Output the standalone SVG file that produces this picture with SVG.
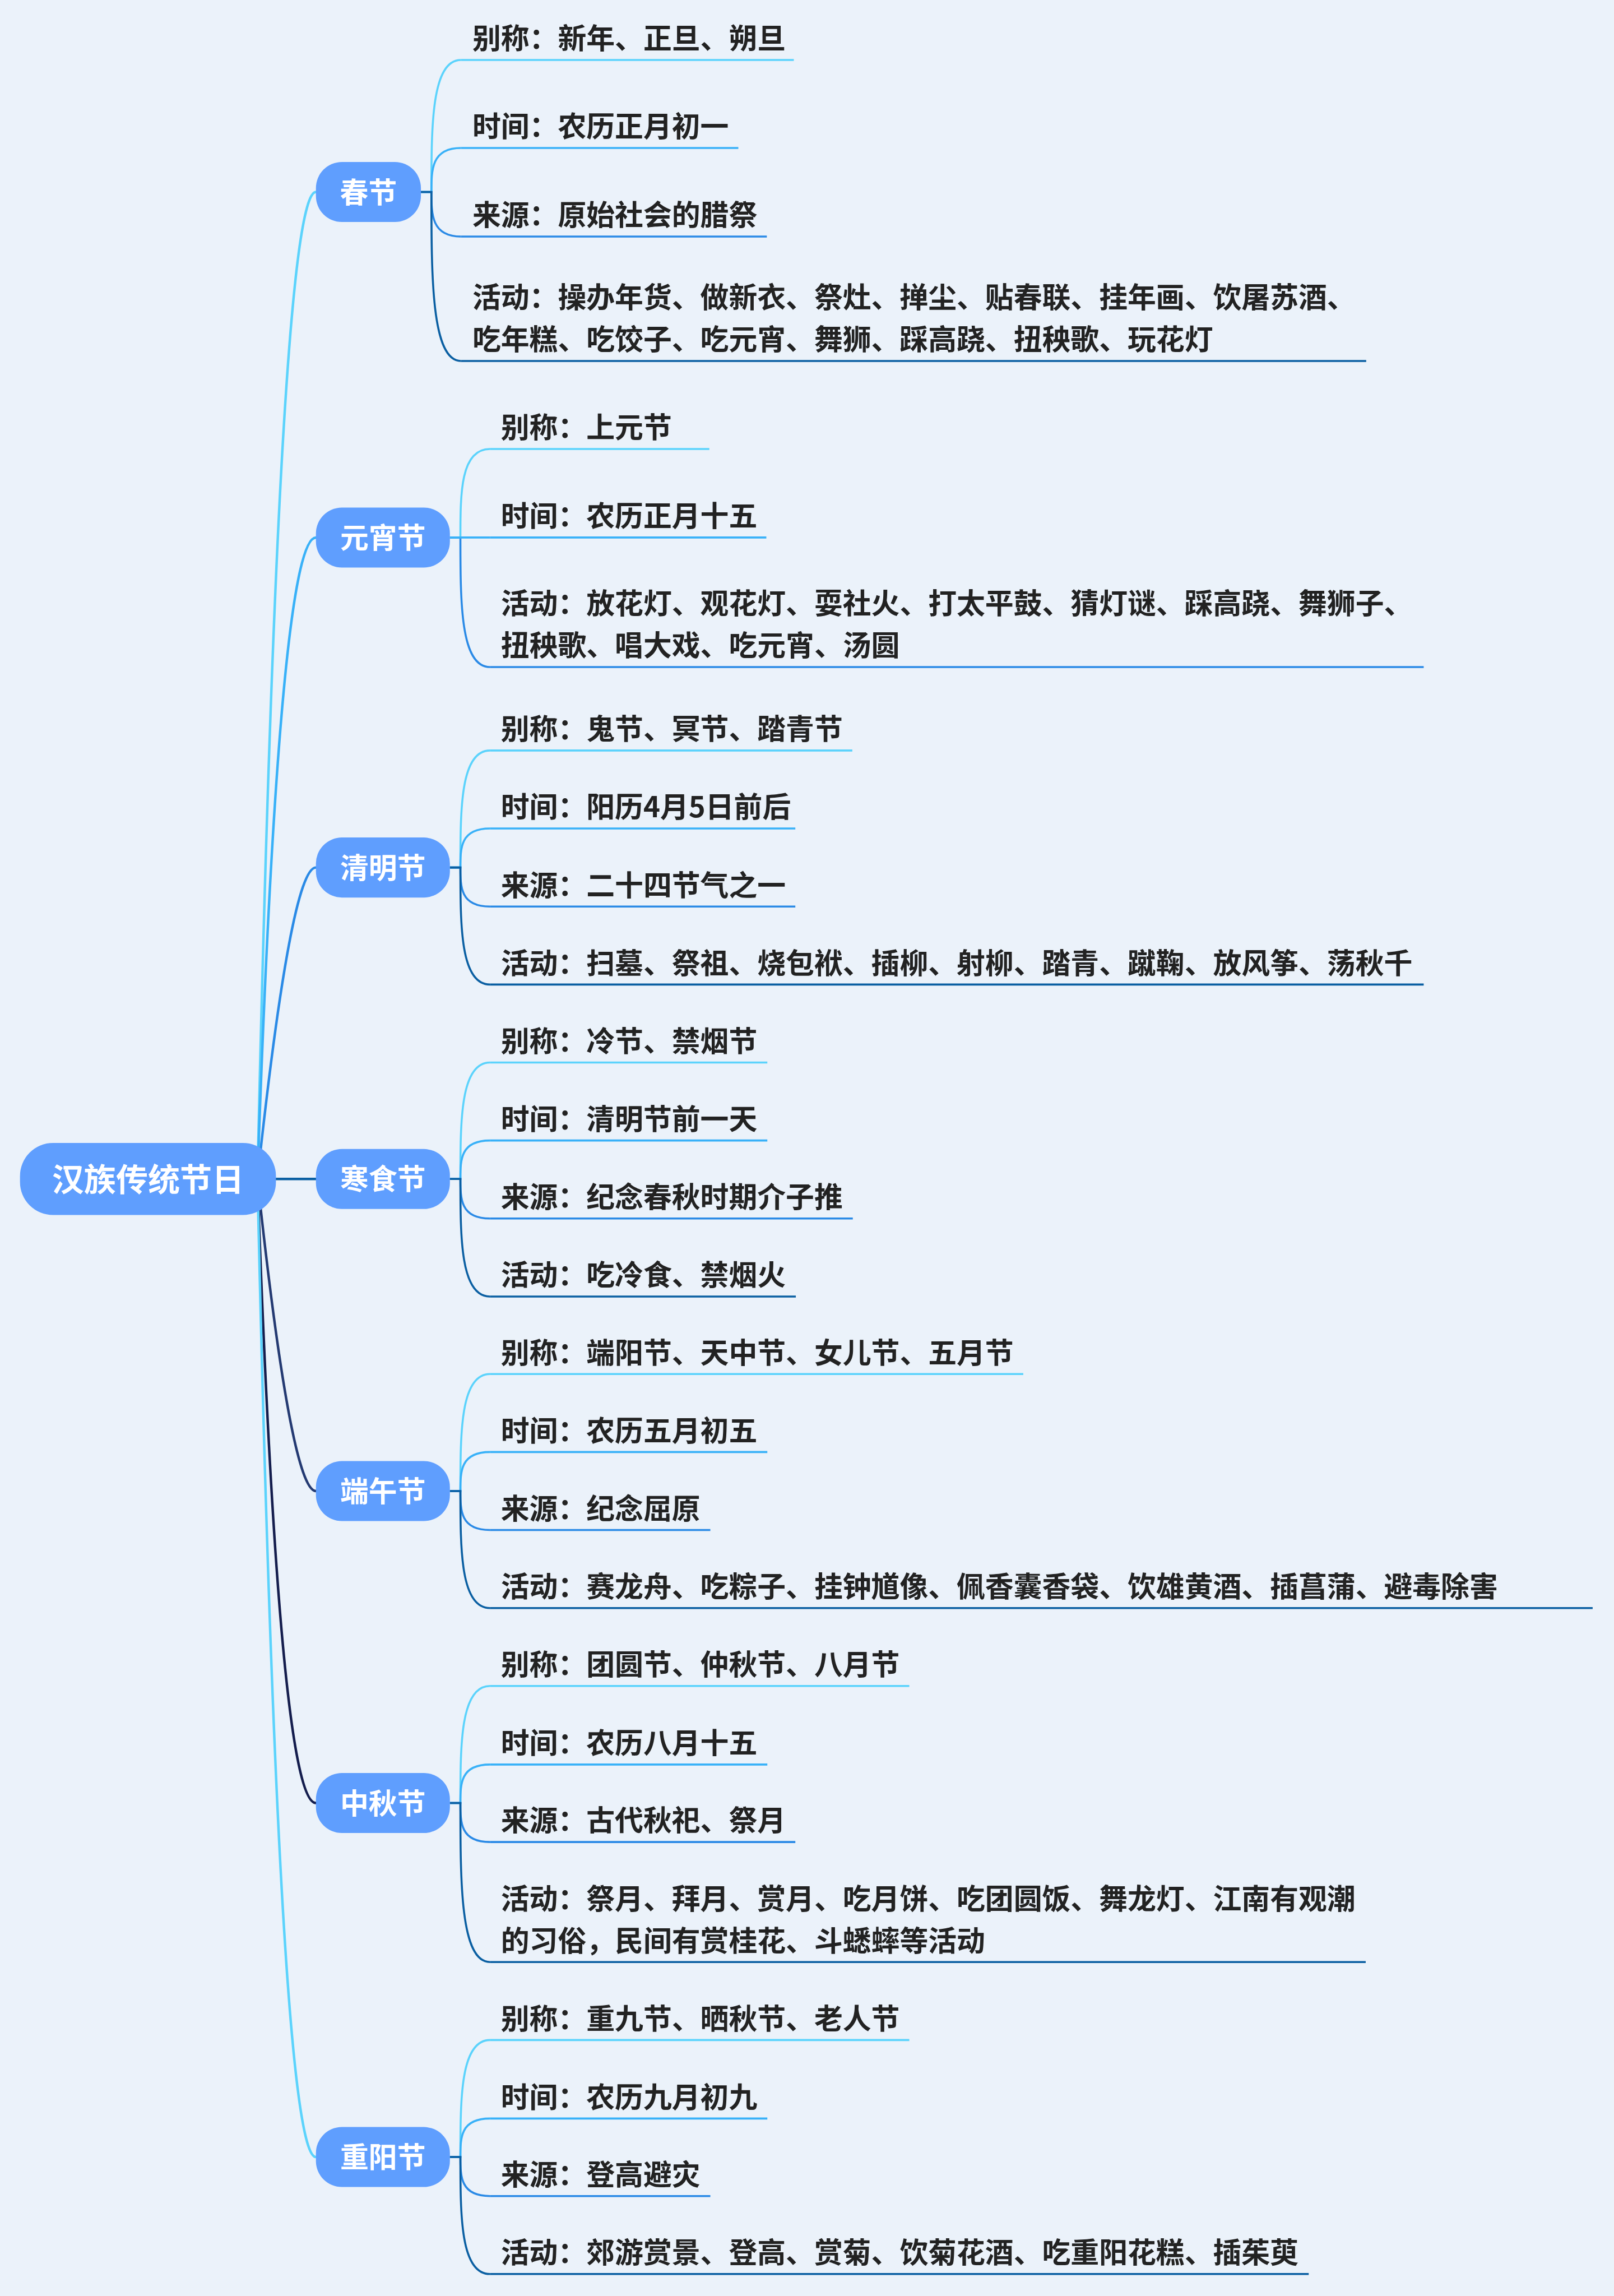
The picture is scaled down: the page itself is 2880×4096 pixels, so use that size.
<svg xmlns="http://www.w3.org/2000/svg" width="2880" height="4096" viewBox="0 0 2880 4096">
<style>
.bg{fill:#EBF2FA}
.nd{fill:#5F9EFE}
.nt{font-family:"Noto Sans CJK SC","Noto Sans",sans-serif;font-weight:bold;fill:#FFFFFF;text-anchor:middle}
.lf{font-family:"Noto Sans CJK SC","Noto Sans",sans-serif;font-weight:bold;fill:#222222;font-size:57px}
.rc{fill:none;stroke-width:5;stroke-linecap:round}
.cc{fill:none;stroke-width:4}
.c1{stroke:#5BD3FC}.c2{stroke:#38B1F8}.c3{stroke:#2A8AE6}.c4{stroke:#0A5FA2}.c5{stroke:#243A72}.c6{stroke:#141D4D}
</style>
<rect class="bg" x="0" y="0" width="2880" height="4096"/>
<g transform="scale(0.892)">
<g id="connectors">
<path class="rc c1" d="M515,2358 Q559,384 632,384"/>
<path class="rc c2" d="M515,2358 Q559,1075 632,1075"/>
<path class="rc c3" d="M515,2358 Q582,1735 632,1735"/>
<path class="rc c4" d="M515,2358 L632,2358"/>
<path class="rc c5" d="M515,2358 Q582,2982 632,2982"/>
<path class="rc c6" d="M515,2358 Q559,3606 632,3606"/>
<path class="rc c1" d="M515,2358 Q559,4314 632,4314"/>
<path class="cc c1" d="M842,384 L863,384 C863,252 863,120 922,120"/>
<path class="cc c2" d="M842,384 L863,384 C863,340 863,296 922,296"/>
<path class="cc c3" d="M842,384 L863,384 C863,428.5 863,473 922,473"/>
<path class="cc c4" d="M842,384 L863,384 C863,553 863,722 922,722"/>
<path class="cc c1" d="M900,1075 L921,1075 C921,986.5 921,898 980,898"/>
<path class="cc c3" d="M900,1075 L921,1075 C921,1204.5 921,1334 980,1334"/>
<path class="cc c2" d="M900,1075 L980,1075"/>
<path class="cc c1" d="M900,1735 L921,1735 C921,1618 921,1501 980,1501"/>
<path class="cc c2" d="M900,1735 L921,1735 C921,1696 921,1657 980,1657"/>
<path class="cc c3" d="M900,1735 L921,1735 C921,1774 921,1813 980,1813"/>
<path class="cc c4" d="M900,1735 L921,1735 C921,1852 921,1969 980,1969"/>
<path class="cc c1" d="M900,2358 L921,2358 C921,2241.5 921,2125 980,2125"/>
<path class="cc c2" d="M900,2358 L921,2358 C921,2319.5 921,2281 980,2281"/>
<path class="cc c3" d="M900,2358 L921,2358 C921,2397.5 921,2437 980,2437"/>
<path class="cc c4" d="M900,2358 L921,2358 C921,2475.5 921,2593 980,2593"/>
<path class="cc c1" d="M900,2982 L921,2982 C921,2865 921,2748 980,2748"/>
<path class="cc c2" d="M900,2982 L921,2982 C921,2943 921,2904 980,2904"/>
<path class="cc c3" d="M900,2982 L921,2982 C921,3021 921,3060 980,3060"/>
<path class="cc c4" d="M900,2982 L921,2982 C921,3099 921,3216 980,3216"/>
<path class="cc c1" d="M900,3606 L921,3606 C921,3489 921,3372 980,3372"/>
<path class="cc c2" d="M900,3606 L921,3606 C921,3567.5 921,3529 980,3529"/>
<path class="cc c3" d="M900,3606 L921,3606 C921,3645 921,3684 980,3684"/>
<path class="cc c4" d="M900,3606 L921,3606 C921,3765 921,3924 980,3924"/>
<path class="cc c1" d="M900,4314 L921,4314 C921,4197 921,4080 980,4080"/>
<path class="cc c2" d="M900,4314 L921,4314 C921,4275.5 921,4237 980,4237"/>
<path class="cc c3" d="M900,4314 L921,4314 C921,4353 921,4392 980,4392"/>
<path class="cc c4" d="M900,4314 L921,4314 C921,4431 921,4548 980,4548"/>
</g>

<g id="root"><rect class="nd" x="40" y="2286" width="512" height="144" rx="66" ry="66"/><text class="nt" x="296" y="2382" font-size="64">汉族传统节日</text></g>

<g id="n-chunjie"><rect class="nd" x="632" y="324" width="210" height="120" rx="52" ry="52"/><text class="nt" x="737" y="405.5" font-size="57">春节</text></g>
<g id="n-yuanxiao"><rect class="nd" x="632" y="1015" width="268" height="120" rx="52" ry="52"/><text class="nt" x="766" y="1096.5" font-size="57">元宵节</text></g>
<g id="n-qingming"><rect class="nd" x="632" y="1675" width="268" height="120" rx="52" ry="52"/><text class="nt" x="766" y="1756.5" font-size="57">清明节</text></g>
<g id="n-hanshi"><rect class="nd" x="632" y="2298" width="268" height="120" rx="52" ry="52"/><text class="nt" x="766" y="2379.5" font-size="57">寒食节</text></g>
<g id="n-duanwu"><rect class="nd" x="632" y="2922" width="268" height="120" rx="52" ry="52"/><text class="nt" x="766" y="3003.5" font-size="57">端午节</text></g>
<g id="n-zhongqiu"><rect class="nd" x="632" y="3546" width="268" height="120" rx="52" ry="52"/><text class="nt" x="766" y="3627.5" font-size="57">中秋节</text></g>
<g id="n-chongyang"><rect class="nd" x="632" y="4254" width="268" height="120" rx="52" ry="52"/><text class="nt" x="766" y="4335.5" font-size="57">重阳节</text></g>

<g id="n-chunjie-1"><path class="cc c1" d="M922,120 H1588"/><text class="lf" x="945" y="98">别称：新年、正旦、朔旦</text></g>
<g id="n-chunjie-2"><path class="cc c2" d="M922,296 H1477"/><text class="lf" x="945" y="274">时间：农历正月初一</text></g>
<g id="n-chunjie-3"><path class="cc c3" d="M922,473 H1534"/><text class="lf" x="945" y="451">来源：原始社会的腊祭</text></g>
<g id="n-chunjie-4"><path class="cc c4" d="M922,722 H2733"/><text class="lf" x="945" y="616">活动：操办年货、做新衣、祭灶、掸尘、贴春联、挂年画、饮屠苏酒、</text><text class="lf" x="945" y="700">吃年糕、吃饺子、吃元宵、舞狮、踩高跷、扭秧歌、玩花灯</text></g>

<g id="n-yuanxiao-1"><path class="cc c1" d="M980,898 H1419"/><text class="lf" x="1002" y="876">别称：上元节</text></g>
<g id="n-yuanxiao-2"><path class="cc c2" d="M980,1075 H1533"/><text class="lf" x="1002" y="1053">时间：农历正月十五</text></g>
<g id="n-yuanxiao-3"><path class="cc c3" d="M980,1334 H2848"/><text class="lf" x="1002" y="1228">活动：放花灯、观花灯、耍社火、打太平鼓、猜灯谜、踩高跷、舞狮子、</text><text class="lf" x="1002" y="1312">扭秧歌、唱大戏、吃元宵、汤圆</text></g>

<g id="n-qingming-1"><path class="cc c1" d="M980,1501 H1705"/><text class="lf" x="1002" y="1479">别称：鬼节、冥节、踏青节</text></g>
<g id="n-qingming-2"><path class="cc c2" d="M980,1657 H1591"/><text class="lf" x="1002" y="1635">时间：阳历4月5日前后</text></g>
<g id="n-qingming-3"><path class="cc c3" d="M980,1813 H1591"/><text class="lf" x="1002" y="1791">来源：二十四节气之一</text></g>
<g id="n-qingming-4"><path class="cc c4" d="M980,1969 H2848"/><text class="lf" x="1002" y="1947">活动：扫墓、祭祖、烧包袱、插柳、射柳、踏青、蹴鞠、放风筝、荡秋千</text></g>

<g id="n-hanshi-1"><path class="cc c1" d="M980,2125 H1535"/><text class="lf" x="1002" y="2103">别称：冷节、禁烟节</text></g>
<g id="n-hanshi-2"><path class="cc c2" d="M980,2281 H1535"/><text class="lf" x="1002" y="2259">时间：清明节前一天</text></g>
<g id="n-hanshi-3"><path class="cc c3" d="M980,2437 H1706"/><text class="lf" x="1002" y="2415">来源：纪念春秋时期介子推</text></g>
<g id="n-hanshi-4"><path class="cc c4" d="M980,2593 H1592"/><text class="lf" x="1002" y="2571">活动：吃冷食、禁烟火</text></g>

<g id="n-duanwu-1"><path class="cc c1" d="M980,2748 H2047"/><text class="lf" x="1002" y="2726">别称：端阳节、天中节、女儿节、五月节</text></g>
<g id="n-duanwu-2"><path class="cc c2" d="M980,2904 H1535"/><text class="lf" x="1002" y="2882">时间：农历五月初五</text></g>
<g id="n-duanwu-3"><path class="cc c3" d="M980,3060 H1421"/><text class="lf" x="1002" y="3038">来源：纪念屈原</text></g>
<g id="n-duanwu-4"><path class="cc c4" d="M980,3216 H3186"/><text class="lf" x="1002" y="3194">活动：赛龙舟、吃粽子、挂钟馗像、佩香囊香袋、饮雄黄酒、插菖蒲、避毒除害</text></g>

<g id="n-zhongqiu-1"><path class="cc c1" d="M980,3372 H1819"/><text class="lf" x="1002" y="3350">别称：团圆节、仲秋节、八月节</text></g>
<g id="n-zhongqiu-2"><path class="cc c2" d="M980,3529 H1535"/><text class="lf" x="1002" y="3507">时间：农历八月十五</text></g>
<g id="n-zhongqiu-3"><path class="cc c3" d="M980,3684 H1591"/><text class="lf" x="1002" y="3662">来源：古代秋祀、祭月</text></g>
<g id="n-zhongqiu-4"><path class="cc c4" d="M980,3924 H2732"/><text class="lf" x="1002" y="3818">活动：祭月、拜月、赏月、吃月饼、吃团圆饭、舞龙灯、江南有观潮</text><text class="lf" x="1002" y="3902">的习俗，民间有赏桂花、斗蟋蟀等活动</text></g>

<g id="n-chongyang-1"><path class="cc c1" d="M980,4080 H1819"/><text class="lf" x="1002" y="4058">别称：重九节、晒秋节、老人节</text></g>
<g id="n-chongyang-2"><path class="cc c2" d="M980,4237 H1535"/><text class="lf" x="1002" y="4215">时间：农历九月初九</text></g>
<g id="n-chongyang-3"><path class="cc c3" d="M980,4392 H1421"/><text class="lf" x="1002" y="4370">来源：登高避灾</text></g>
<g id="n-chongyang-4"><path class="cc c4" d="M980,4548 H2618"/><text class="lf" x="1002" y="4526">活动：郊游赏景、登高、赏菊、饮菊花酒、吃重阳花糕、插茱萸</text></g>
</g>
</svg>
